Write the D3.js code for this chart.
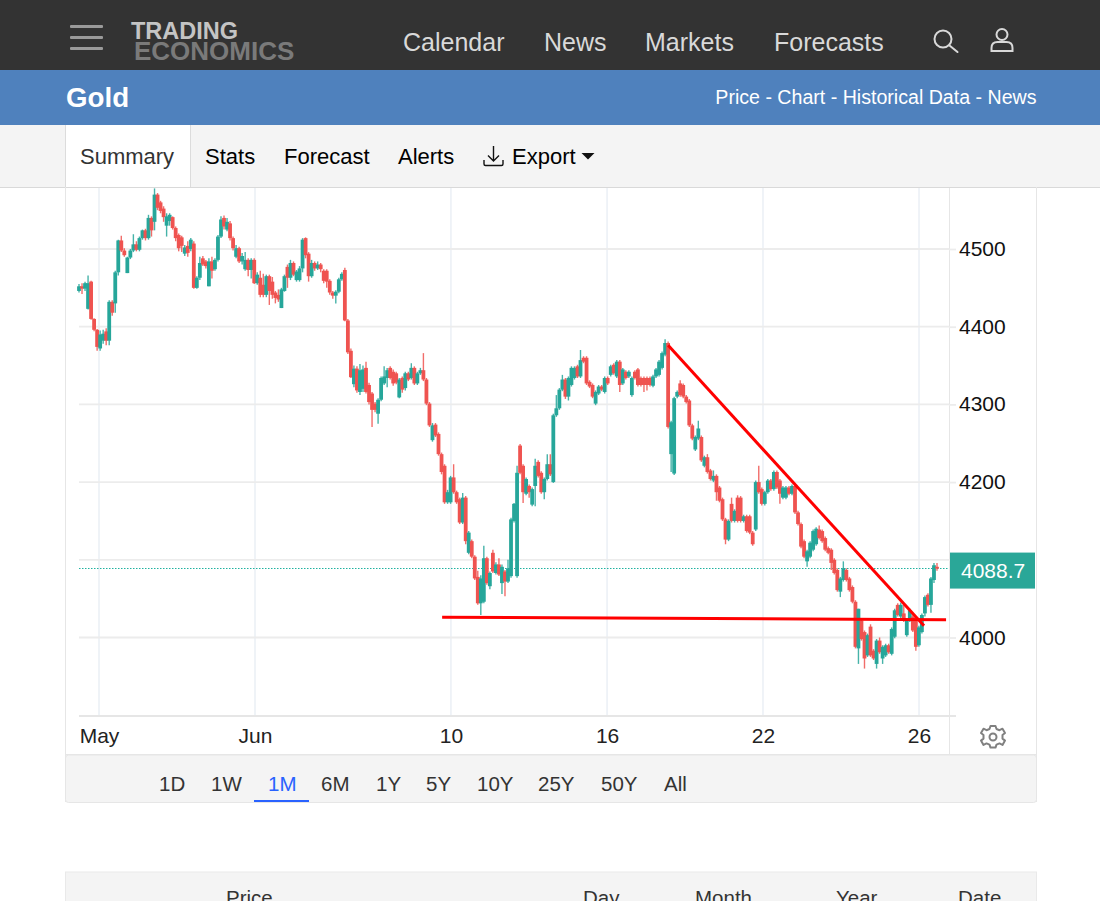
<!DOCTYPE html>
<html>
<head>
<meta charset="utf-8">
<script src="https://cdnjs.cloudflare.com/ajax/libs/d3/7.8.5/d3.min.js"></script>
<style>
body { margin: 0; background: #fff; overflow: hidden; }
svg { display: block; font-family: "Liberation Sans", Arial, sans-serif; }
</style>
</head>
<body>
<script>
var opens = [
4446,4452,4449,4423,4458,4410,4396,4372,4382,4394,
4382,4432,4430,4470,4511,4498,4469,4489,4498,4506,
4499,4514,4524,4514,4540,4535,4570,4560,4552,4530,
4536,4541,4527,4518,4515,4494,4504,4500,4507,4450,
4463,4488,4484,4452,4484,4474,4486,4516,4540,4525,
4533,4514,4490,4501,4484,4474,4486,4473,4486,4456,
4463,4454,4441,4465,4458,4444,4441,4424,4446,4477,
4463,4482,4460,4460,4475,4514,4494,4465,4482,4475,
4480,4472,4472,4459,4444,4440,4445,4461,4473,4408,
4369,4326,4346,4316,4320,4347,4325,4314,4301,4288,
4306,4327,4334,4347,4342,4340,4309,4334,4321,4340,
4334,4347,4327,4340,4344,4332,4301,4254,4274,4262,
4236,4221,4174,4174,4206,4187,4178,4148,4180,4109,
4124,4104,4078,4044,4046,4102,4066,4109,4083,4094,
4070,4085,4072,4079,4150,4079,4247,4221,4185,4195,
4171,4195,4226,4212,4187,4204,4223,4200,4286,4295,
4319,4332,4310,4325,4334,4349,4336,4360,4360,4329,
4325,4301,4314,4323,4316,4334,4338,4351,4336,4355,
4327,4342,4336,4312,4342,4345,4334,4334,4334,4334,
4324,4336,4338,4347,4364,4379,4236,4211,4310,4327,
4325,4310,4305,4273,4242,4256,4258,4221,4232,4215,
4202,4208,4193,4178,4152,4126,4172,4150,4180,4180,
4150,4156,4156,4135,4139,4200,4191,4172,4187,4202,
4191,4213,4202,4180,4180,4193,4185,4195,4161,4146,
4124,4098,4104,4113,4120,4139,4137,4128,4115,4113,
4100,4087,4059,4074,4087,4076,4065,4046,3986,4022,
4007,3977,4014,3983,3966,3996,3973,3977,3990,3979,
4001,4042,4027,4031,4003,4022,4027,4022,3990,4007,
4031,4055,4042,4074,4091];

var closes = [
4452,4449,4456,4456,4410,4396,4374,4390,4391,4382,
4432,4418,4470,4511,4498,4492,4489,4498,4506,4499,
4514,4524,4514,4540,4524,4570,4553,4549,4541,4542,
4544,4527,4514,4501,4504,4502,4495,4512,4450,4463,
4482,4480,4478,4484,4472,4486,4516,4538,4529,4535,
4514,4501,4501,4484,4491,4486,4473,4486,4456,4467,
4441,4441,4465,4446,4441,4437,4435,4448,4465,4463,
4482,4467,4471,4475,4512,4492,4465,4482,4475,4480,
4474,4459,4458,4444,4440,4445,4461,4468,4408,4367,
4335,4346,4318,4344,4345,4316,4303,4293,4293,4306,
4334,4336,4344,4334,4327,4328,4332,4319,4340,4332,
4347,4327,4340,4344,4332,4301,4273,4273,4260,4236,
4213,4174,4187,4206,4187,4174,4148,4180,4124,4135,
4104,4076,4044,4076,4102,4070,4083,4085,4094,4081,
4091,4072,4089,4152,4172,4212,4212,4187,4204,4187,
4191,4221,4208,4187,4204,4223,4210,4286,4295,4319,
4332,4310,4334,4347,4347,4336,4357,4355,4327,4323,
4310,4316,4323,4319,4334,4327,4349,4340,4355,4325,
4345,4334,4342,4334,4334,4325,4325,4325,4325,4325,
4336,4345,4355,4366,4379,4271,4277,4308,4316,4312,
4310,4303,4273,4256,4258,4269,4228,4232,4213,4204,
4208,4187,4176,4152,4126,4150,4150,4163,4150,4150,
4156,4137,4135,4120,4200,4187,4172,4187,4202,4191,
4213,4193,4185,4193,4193,4185,4195,4161,4146,4117,
4104,4111,4122,4137,4140,4128,4124,4113,4109,4096,
4083,4061,4076,4089,4074,4061,4046,3988,4037,3998,
3973,4003,3977,3973,3996,3981,3988,3990,3981,4011,
4035,4029,4042,4022,4022,4035,4009,3988,4013,4029,
4052,4042,4076,4093,4088.7];

var highs = [
4455,4456,4458,4466,4459,4411,4397,4395,4396,4398,
4434,4434,4472,4512,4517,4501,4490,4500,4519,4510,
4516,4525,4526,4544,4542,4578,4572,4562,4555,4546,
4546,4542,4529,4520,4517,4505,4510,4514,4510,4465,
4490,4491,4486,4488,4490,4488,4518,4542,4543,4540,
4536,4516,4505,4503,4495,4496,4488,4488,4488,4470,
4472,4468,4467,4467,4464,4446,4448,4450,4467,4480,
4486,4484,4473,4478,4514,4515,4496,4486,4484,4484,
4482,4474,4474,4461,4446,4447,4463,4470,4476,4410,
4372,4350,4349,4352,4350,4355,4328,4316,4303,4308,
4336,4349,4347,4349,4345,4342,4334,4336,4342,4342,
4353,4349,4342,4347,4366,4334,4303,4276,4276,4264,
4238,4223,4190,4208,4223,4189,4180,4186,4182,4137,
4126,4106,4086,4080,4118,4104,4085,4113,4097,4102,
4094,4087,4100,4154,4173,4221,4249,4223,4206,4197,
4193,4230,4228,4214,4206,4236,4236,4288,4312,4321,
4338,4334,4336,4349,4349,4351,4370,4362,4362,4331,
4327,4318,4325,4325,4336,4336,4351,4353,4357,4357,
4347,4344,4344,4336,4344,4347,4336,4336,4336,4336,
4338,4347,4357,4368,4384,4381,4279,4310,4318,4331,
4327,4312,4307,4275,4260,4279,4260,4234,4236,4217,
4215,4210,4195,4180,4154,4152,4180,4165,4183,4182,
4158,4158,4158,4137,4202,4221,4193,4189,4204,4204,
4215,4215,4204,4195,4195,4195,4197,4197,4163,4148,
4126,4113,4124,4139,4142,4144,4139,4130,4117,4115,
4102,4089,4078,4098,4089,4078,4067,4048,4037,4024,
4009,4005,4017,3985,3998,4000,3990,3992,3992,4013,
4037,4044,4045,4044,4024,4037,4029,4024,4015,4031,
4054,4057,4078,4096,4096];

var lows = [
4444,4442,4446,4422,4409,4394,4369,4369,4378,4376,
4376,4414,4418,4466,4496,4490,4469,4487,4496,4497,
4497,4512,4511,4512,4516,4524,4550,4546,4535,4516,
4530,4525,4510,4497,4496,4491,4490,4497,4449,4449,
4460,4478,4475,4452,4462,4472,4484,4514,4525,4523,
4511,4498,4488,4482,4480,4472,4465,4462,4455,4454,
4438,4438,4438,4428,4436,4430,4432,4424,4445,4450,
4460,4465,4458,4458,4470,4488,4458,4463,4472,4473,
4470,4456,4450,4441,4436,4430,4443,4459,4407,4365,
4334,4322,4315,4312,4316,4314,4300,4271,4290,4275,
4304,4325,4322,4332,4324,4326,4308,4315,4318,4330,
4332,4325,4325,4338,4330,4299,4271,4252,4258,4234,
4210,4172,4172,4172,4185,4172,4146,4146,4120,4107,
4102,4074,4042,4029,4044,4068,4062,4083,4081,4079,
4056,4053,4070,4077,4148,4077,4210,4173,4183,4180,
4169,4169,4206,4185,4178,4202,4208,4199,4284,4293,
4317,4307,4305,4323,4332,4334,4334,4353,4325,4321,
4308,4299,4312,4317,4314,4325,4336,4338,4334,4316,
4325,4332,4334,4310,4332,4323,4323,4316,4318,4323,
4322,4334,4336,4345,4362,4269,4213,4209,4308,4310,
4308,4301,4271,4254,4240,4254,4226,4219,4211,4202,
4200,4176,4174,4150,4120,4124,4148,4148,4148,4148,
4148,4135,4133,4118,4137,4185,4170,4170,4185,4189,
4189,4191,4172,4178,4178,4183,4183,4159,4144,4115,
4102,4091,4102,4111,4118,4126,4122,4111,4107,4087,
4081,4059,4052,4072,4072,4059,4044,3986,3966,3996,
3960,3975,3975,3971,3960,3979,3966,3975,3979,3977,
3999,4027,4025,4020,4001,4020,4007,3983,3988,4005,
4027,4040,4032,4070,4086];

var lastPrice = 4088.7;
var priceTicks = [4000, 4100, 4200, 4300, 4400, 4500];
var dateLabels = ["May", "Jun", "10", "16", "22", "26"];
var dateCandles = [6.62, 58.26, 123.1, 174.8, 226.4, 278.05]; // candle number under each date label

// the two hand drawn red lines: candle number and price at each end
var trendStart = [[120.2, 4026], [195, 4376]];
var trendEnd = [[287, 4023], [279.7, 4015]];

var navItems = ["Calendar", "News", "Markets", "Forecasts"];
var navX = [403, 544, 645, 774];
var tabItems = ["Summary", "Stats", "Forecast", "Alerts", "Export"];
var tabX = [80, 205, 284, 398, 512];
var rangeItems = ["1D", "1W", "1M", "6M", "1Y", "5Y", "10Y", "25Y", "50Y", "All"];
var rangeX = [159, 211, 268, 321, 376, 426, 477, 538, 601, 664];
var tableHeads = ["Price", "Day", "Month", "Year", "Date"];
var tableX = [226, 583, 695, 836, 958];

var teal = "#26a69a", red = "#ef5350";

var svg = d3.select("body").append("svg")
	.attr("width", 1100)
	.attr("height", 901);

var candleIds = d3.range(opens.length);

var x = d3.scaleLinear().domain([0, opens.length - 1]).range([79, 937]);
var y = d3.scaleLinear().domain([4000, 4500]).range([637.5, 249]);

// page chrome
svg.append("rect").attr("width", 1100).attr("height", 70).attr("fill", "#333333");
svg.append("rect").attr("y", 70).attr("width", 1100).attr("height", 55).attr("fill", "#4f81bd");
svg.append("rect").attr("y", 125).attr("width", 1100).attr("height", 62).attr("fill", "#f4f4f4");
svg.append("rect").attr("x", 66).attr("y", 125).attr("width", 124.5).attr("height", 62).attr("fill", "#fff");
svg.append("line").attr("x1", 0).attr("x2", 1100).attr("y1", 187.5).attr("y2", 187.5).attr("stroke", "#d9d9d9");
svg.selectAll("line.tabedge").data([65.5, 190.5]).enter().append("line")
	.attr("x1", function (d) {return d;}).attr("x2", function (d) {return d;})
	.attr("y1", 125).attr("y2", 187).attr("stroke", "#dcdcdc");

// hamburger
svg.selectAll("rect.burger").data([26, 37, 48]).enter().append("rect")
	.attr("x", 70).attr("y", function (d) {return d - 1;})
	.attr("width", 33).attr("height", 3).attr("rx", 1)
	.attr("fill", "#9a9a9a");

// logo
svg.append("text").attr("x", 131).attr("y", 39)
	.attr("font-size", 23.5).attr("font-weight", "bold").attr("fill", "#c4c4c4").text("TRADING");
svg.append("text").attr("x", 134).attr("y", 60)
	.attr("font-size", 26).attr("font-weight", "bold").attr("fill", "#7a7a7a").text("ECONOMICS");

svg.selectAll("text.nav").data(navItems).enter().append("text")
	.attr("x", function (d, i) {return navX[i];})
	.attr("y", 51)
	.attr("font-size", 25)
	.attr("fill", "#d9d9d9")
	.text(function (d) {return d;});

// search and user icons
var icons = svg.append("g").attr("fill", "none").attr("stroke", "#d9d9d9").attr("stroke-width", 2);
icons.append("circle").attr("cx", 943).attr("cy", 39).attr("r", 8.5);
icons.append("line").attr("x1", 949.5).attr("y1", 45.5).attr("x2", 957.5).attr("y2", 52).attr("stroke-linecap", "round");
icons.append("circle").attr("cx", 1002).attr("cy", 34.5).attr("r", 5.5);
icons.append("path").attr("d", "M991.5 51 v-3 q0 -6 6 -6 h9 q6 0 6 6 v3 z");

svg.append("text").attr("x", 66).attr("y", 107)
	.attr("font-size", 27.7).attr("font-weight", "bold").attr("fill", "#fff").text("Gold");
svg.append("text").attr("x", 1036.5).attr("y", 104)
	.attr("text-anchor", "end").attr("font-size", 19.6).attr("fill", "#fff")
	.text("Price - Chart - Historical Data - News");

svg.selectAll("text.tab").data(tabItems).enter().append("text")
	.attr("x", function (d, i) {return tabX[i];})
	.attr("y", 164)
	.attr("font-size", 22)
	.attr("fill", function (d, i) {return i == 0 ? "#333" : "#000";})
	.text(function (d) {return d;});

// export arrow and caret
var exportIcon = svg.append("g").attr("fill", "none").attr("stroke", "#111").attr("stroke-width", 1.4);
exportIcon.append("path").attr("d", "M493.5 146 v15 M488 155.5 l5.5 5.5 l5.5 -5.5");
exportIcon.append("path").attr("d", "M484 160 v4 q0 1.5 1.5 1.5 h16 q1.5 0 1.5 -1.5 v-4");
svg.append("path").attr("d", "M581.5 153 h13 l-6.5 6.5 z").attr("fill", "#111");

// chart frame
svg.selectAll("line.frame").data([65.5, 1036.5]).enter().append("line")
	.attr("x1", function (d) {return d;}).attr("x2", function (d) {return d;})
	.attr("y1", 187).attr("y2", 802).attr("stroke", "#e6e6e6");

// vertical date grid
svg.selectAll("line.vgrid").data(dateCandles).enter().append("line")
	.attr("x1", function (d) {return x(d);}).attr("x2", function (d) {return x(d);})
	.attr("y1", 188).attr("y2", 716)
	.attr("stroke", "#eef2f7").attr("stroke-width", 1.8);

// horizontal price grid
svg.selectAll("line.hgrid").data(priceTicks).enter().append("line")
	.attr("x1", 79).attr("x2", 949)
	.attr("y1", function (d) {return y(d);}).attr("y2", function (d) {return y(d);})
	.attr("stroke", "#ececec").attr("stroke-width", 1.8);

// price axis on the right
var yAxis = svg.append("g")
	.attr("transform", "translate(949,0)")
	.call(d3.axisRight(y).tickValues(priceTicks).tickSize(7).tickPadding(3).tickFormat(d3.format("d")));
yAxis.select(".domain").attr("d", "M0.5 188 V754").attr("stroke", "#e6e6e6");
yAxis.selectAll(".tick line").attr("stroke", "#ececec").attr("stroke-width", 1.8);
yAxis.selectAll("text").attr("font-family", "Liberation Sans").attr("font-size", 21).attr("fill", "#111").attr("dy", "0.31em");

// date axis
var xAxis = svg.append("g")
	.attr("transform", "translate(0,716)")
	.call(d3.axisBottom(x).tickValues(dateCandles).tickSize(0).tickPadding(12)
		.tickFormat(function (d, i) {return dateLabels[i];}));
xAxis.select(".domain").attr("d", "M79 0 H956").attr("stroke", "#e6e6e6").attr("stroke-width", 2);
xAxis.selectAll("text").attr("font-family", "Liberation Sans").attr("font-size", 21).attr("fill", "#222");

svg.append("line").attr("x1", 66).attr("x2", 1037).attr("y1", 754.5).attr("y2", 754.5).attr("stroke", "#e6e6e6");

// last price line sits under the candles
svg.append("line")
	.attr("x1", 79).attr("x2", 949)
	.attr("y1", 568.5).attr("y2", 568.5)
	.attr("stroke", "#20b2a0").attr("stroke-dasharray", "1.5 1.5");

// candles
var plot = svg.append("g");

plot.selectAll("line.wick").data(candleIds).enter().append("line")
	.attr("x1", function (d) {return x(d);})
	.attr("x2", function (d) {return x(d);})
	.attr("y1", function (d) {return y(highs[d]);})
	.attr("y2", function (d) {return y(lows[d]);})
	.attr("stroke", function (d) {return closes[d] >= opens[d] ? teal : red;})
	.attr("stroke-opacity", 0.85)
	.attr("stroke-width", 1.4);

plot.selectAll("rect.body").data(candleIds).enter().append("rect")
	.attr("x", function (d) {return x(d) - 1.9;})
	.attr("width", 3.8)
	.attr("y", function (d) {return y(Math.max(opens[d], closes[d]));})
	.attr("height", function (d) {return Math.max(1, Math.abs(y(opens[d]) - y(closes[d])));})
	.attr("fill", function (d) {return closes[d] >= opens[d] ? teal : red;});

// last price badge
svg.append("rect")
	.attr("x", 950).attr("y", y(lastPrice) - 16)
	.attr("width", 85).attr("height", 36)
	.attr("fill", "#2aa798");
svg.append("text")
	.attr("x", 961).attr("y", y(lastPrice) + 9.5)
	.attr("font-size", 21).attr("fill", "#fff")
	.text(d3.format(".1f")(lastPrice));

// red lines
svg.selectAll("line.trend").data(trendStart).enter().append("line")
	.attr("x1", function (d) {return x(d[0]);})
	.attr("y1", function (d) {return y(d[1]);})
	.attr("x2", function (d, i) {return x(trendEnd[i][0]);})
	.attr("y2", function (d, i) {return y(trendEnd[i][1]);})
	.attr("stroke", "#ff0000").attr("stroke-width", 3);

// settings gear
var gear = svg.append("g").attr("transform", "translate(993,737)")
	.attr("fill", "none").attr("stroke", "#808080").attr("stroke-width", 2);
gear.append("circle").attr("r", 3.5);
gear.append("path").attr("stroke-linejoin", "round")
	.attr("d", "M-2.5 -11 h5 l1 3 l3 1.2 l3 -1.5 l2.5 4.3 l-2.5 2 v3.6 l2.5 2 l-2.5 4.3 l-3 -1.5 l-3 1.2 l-1 3 h-5 l-1 -3 l-3 -1.2 l-3 1.5 l-2.5 -4.3 l2.5 -2 v-3.6 l-2.5 -2 l2.5 -4.3 l3 1.5 l3 -1.2 z");

// range selector
svg.append("rect").attr("x", 65.5).attr("y", 755).attr("width", 971).attr("height", 47.5).attr("rx", 3)
	.attr("fill", "#f4f4f4").attr("stroke", "#e6e6e6");
svg.selectAll("text.range").data(rangeItems).enter().append("text")
	.attr("x", function (d, i) {return rangeX[i];})
	.attr("y", 791)
	.attr("font-size", 20.5)
	.attr("fill", function (d) {return d == "1M" ? "#2962ff" : "#333";})
	.text(function (d) {return d;});
svg.append("rect").attr("x", 254).attr("y", 800).attr("width", 55).attr("height", 2).attr("fill", "#2962ff");

// table head cut by the window
svg.append("rect").attr("x", 65.5).attr("y", 872).attr("width", 971).attr("height", 30)
	.attr("fill", "#f4f4f4").attr("stroke", "#e9e9e9");
svg.selectAll("text.head").data(tableHeads).enter().append("text")
	.attr("x", function (d, i) {return tableX[i];})
	.attr("y", 905)
	.attr("font-size", 20.5)
	.attr("fill", "#333")
	.text(function (d) {return d;});
</script>
</body>
</html>
